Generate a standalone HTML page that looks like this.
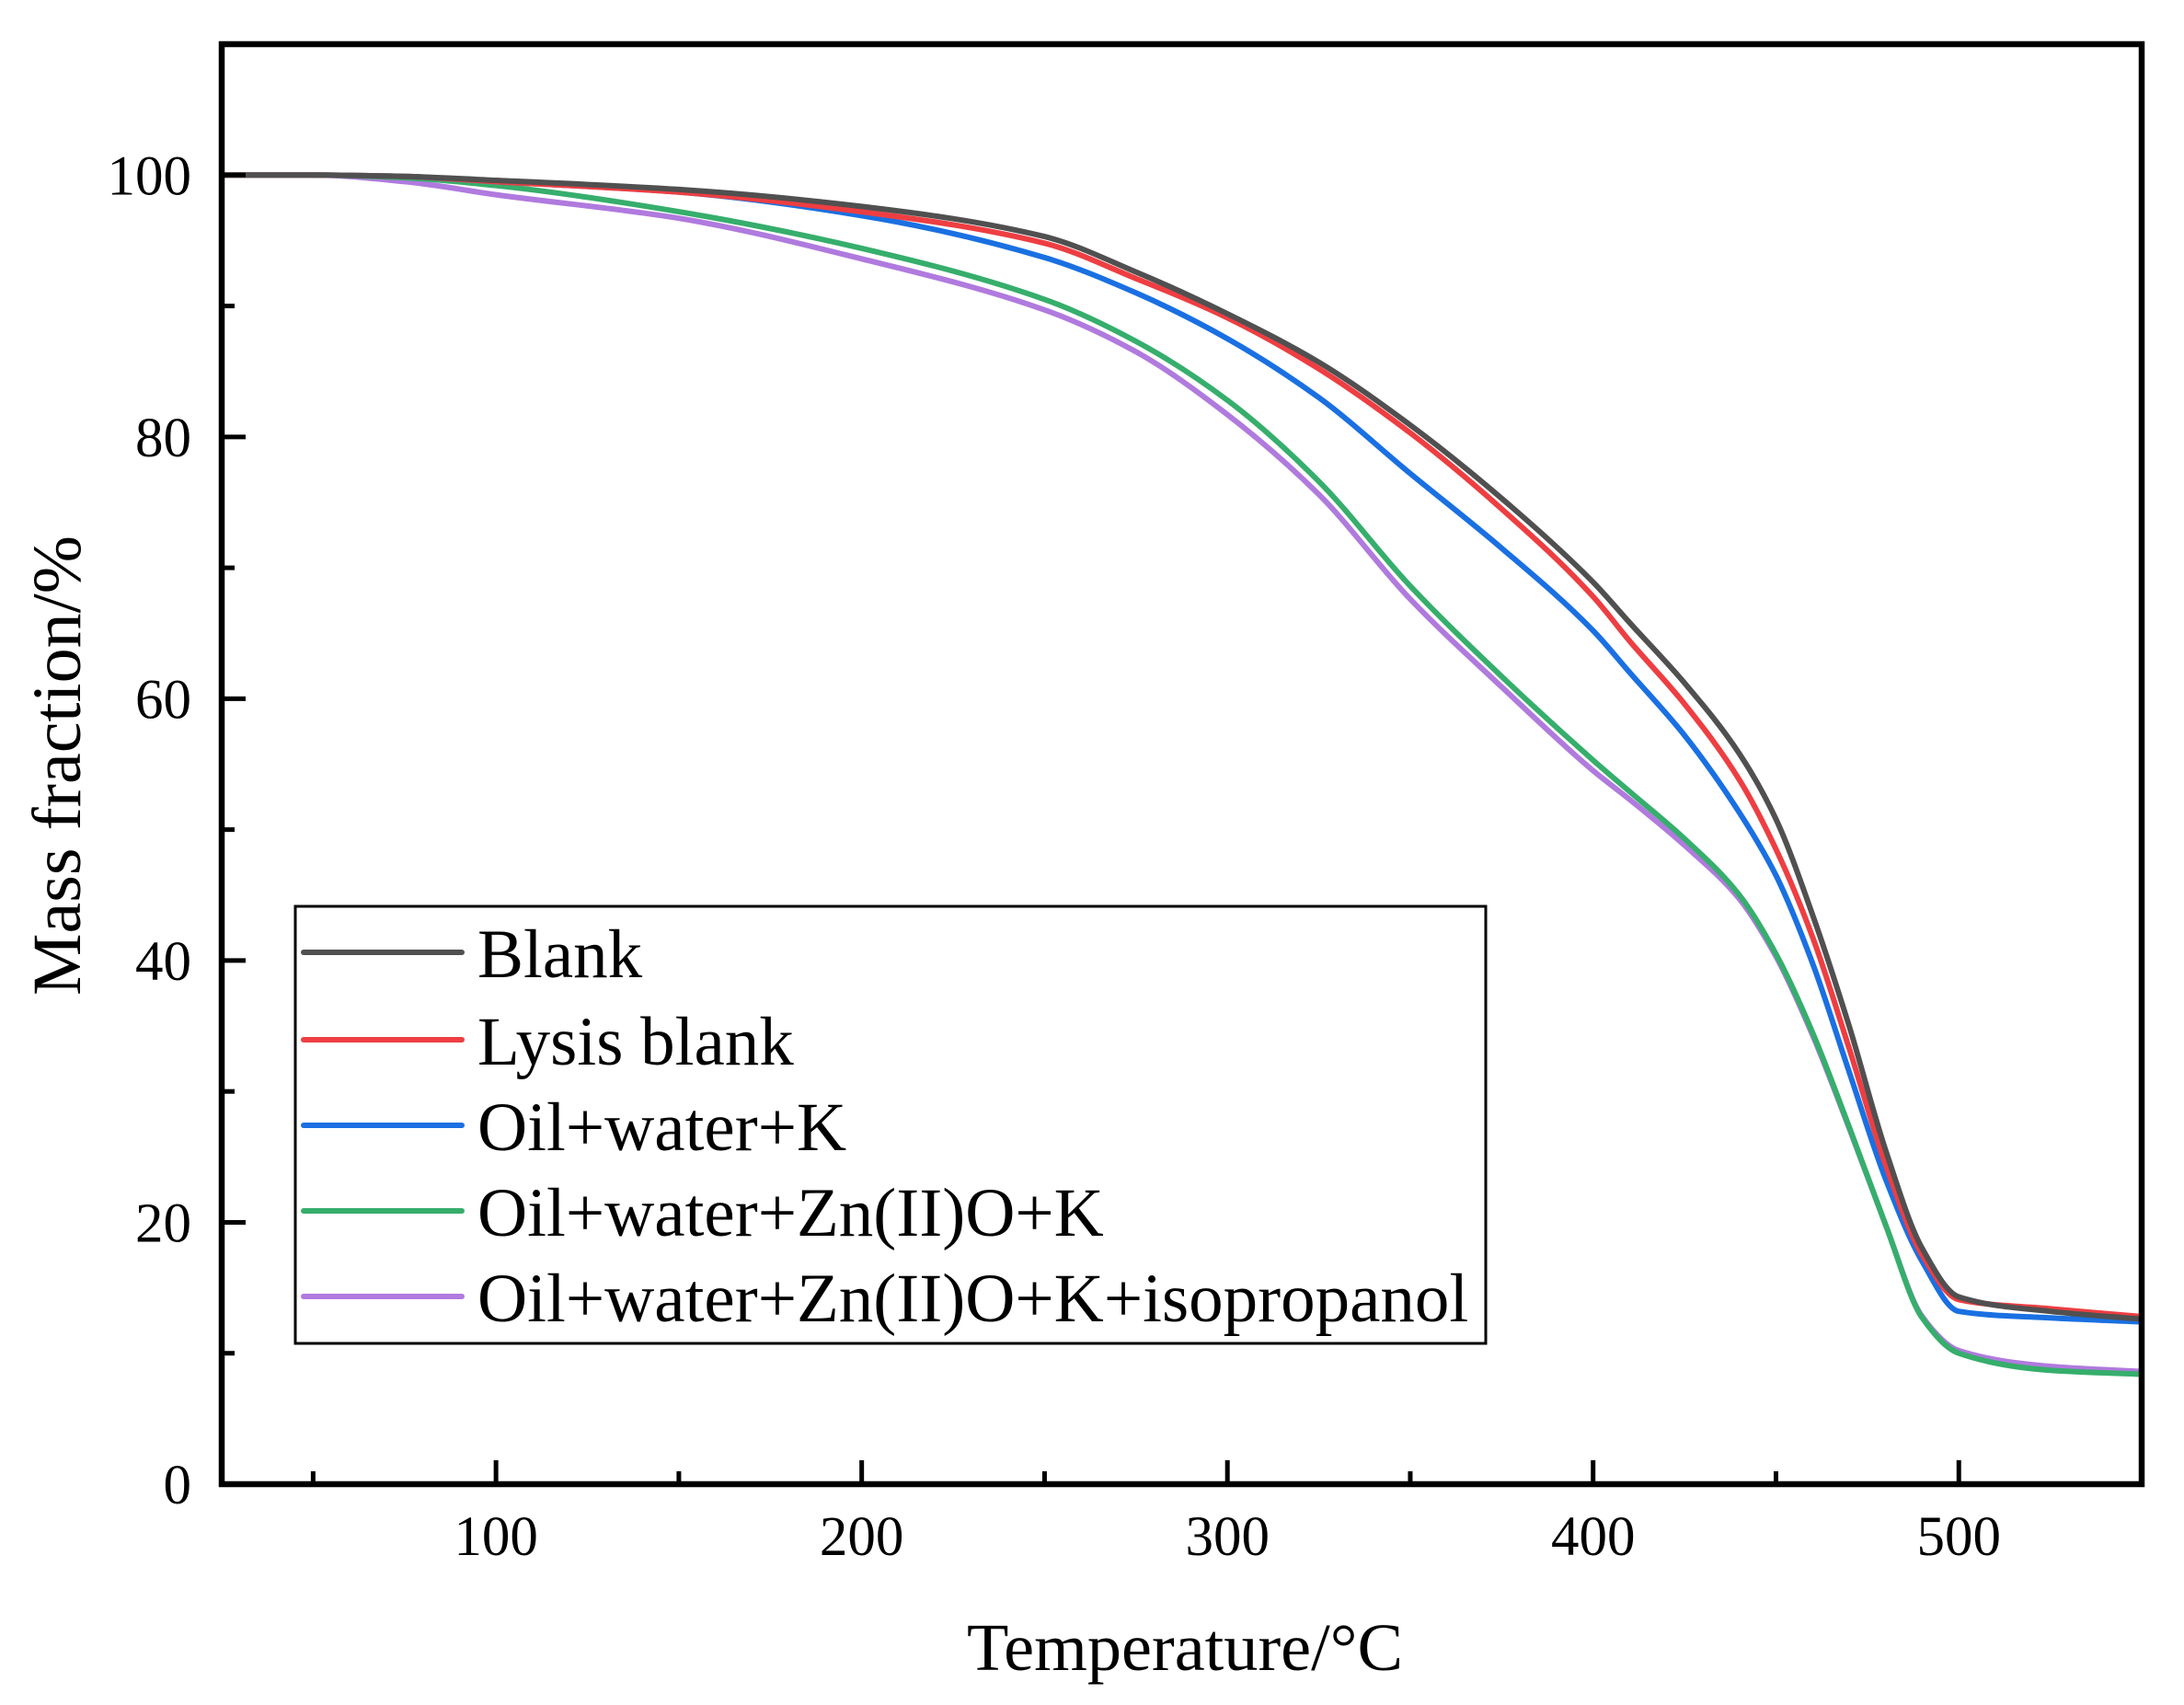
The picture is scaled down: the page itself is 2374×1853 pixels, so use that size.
<!DOCTYPE html>
<html><head><meta charset="utf-8">
<style>
html,body{margin:0;padding:0;background:#fff;}
svg{display:block;}
text{font-family:"Liberation Serif","Times New Roman",serif;fill:#000;}
</style></head>
<body>
<svg id="chart" width="2374" height="1853" viewBox="0 0 2374 1853" xmlns="http://www.w3.org/2000/svg">
<g id="series"></g>
<g id="axes"></g>
<g id="legend"></g>
<text x="1288" y="1815" font-size="73" text-anchor="middle" textLength="474" lengthAdjust="spacingAndGlyphs">Temperature/°C</text>
<text x="0" y="0" font-size="75" text-anchor="middle" textLength="500" lengthAdjust="spacingAndGlyphs" transform="translate(87,832) rotate(-90)">Mass fraction/%</text>
</svg>
<script>
const temps = [25, 50, 75, 100, 150, 200, 250, 275, 300, 325, 350, 375, 400, 410, 425, 440, 450, 460, 470, 480, 490, 500, 525, 550];
const blankVals = [100, 100, 99.9, 99.6, 98.9, 97.6, 95.3, 92.6, 89.4, 85.7, 80.9, 75.3, 68.9, 65.8, 61.2, 55.8, 50.8, 43.5, 35.0, 25.5, 18.0, 14.3, 13.2, 12.6];
const lysisVals = [100, 100, 99.9, 99.5, 98.7, 97.2, 94.8, 92.1, 89.1, 85.2, 80.3, 74.5, 67.8, 64.4, 59.6, 53.8, 48.5, 41.8, 33.3, 24.4, 17.5, 14.1, 13.4, 12.8];
const oilKVals = [100, 100, 99.9, 99.5, 98.7, 96.9, 93.7, 91.0, 87.5, 83.0, 77.2, 71.5, 65.2, 62.0, 57.2, 51.3, 46.5, 39.8, 31.5, 23.3, 17.0, 13.2, 12.7, 12.4];
const znVals = [100, 100, 99.8, 99.2, 97.2, 94.4, 90.5, 87.3, 82.8, 76.6, 68.6, 61.7, 55.3, 52.9, 49.3, 45.0, 40.5, 34.5, 27.3, 19.8, 12.7, 10.0, 8.7, 8.4];
const isoVals = [100, 100, 99.5, 98.5, 96.7, 93.6, 89.7, 86.5, 81.7, 75.6, 67.6, 60.9, 54.5, 52.3, 48.8, 44.7, 40.3, 34.3, 27.2, 19.8, 12.8, 10.2, 9.0, 8.6];
const seriesNames = ["Blank", "Lysis blank", "Oil+water+K", "Oil+water+Zn(II)O+K", "Oil+water+Zn(II)O+K+isopropanol"];
const xTickLabels = [100, 200, 300, 400, 500];
const xMinorTicks = [50, 150, 250, 350, 450, 550];
const yTickLabels = [0, 20, 40, 60, 80, 100];
const yMinorTicks = [10, 30, 50, 70, 90];

const NS = "http://www.w3.org/2000/svg";
const L = 241, R = 2328, T = 48, B = 1613;
const xMin = 25, xMax = 550, yMin = 0, yMax = 110;
function xs(v){ return L + (v - xMin) / (xMax - xMin) * (R - L); }
function ys(v){ return B - (v - yMin) / (yMax - yMin) * (B - T); }
function mk(tag, attrs, parent){
  const e = document.createElementNS(NS, tag);
  for (const k in attrs) e.setAttribute(k, attrs[k]);
  parent.appendChild(e);
  return e;
}
function monotonePath(xv, yv){
  const n = xv.length, d = [], m = new Array(n);
  for (let i = 0; i < n - 1; i++) d.push((yv[i+1]-yv[i])/(xv[i+1]-xv[i]));
  m[0] = d[0]; m[n-1] = d[n-2];
  for (let i = 1; i < n - 1; i++){
    if (d[i-1]*d[i] <= 0) m[i] = 0;
    else { const w1 = 2*(xv[i+1]-xv[i]) + (xv[i]-xv[i-1]), w2 = (xv[i+1]-xv[i]) + 2*(xv[i]-xv[i-1]);
      m[i] = (w1+w2)/(w1/d[i-1] + w2/d[i]); }
  }
  let p = "M" + xs(xv[0]).toFixed(1) + "," + ys(yv[0]).toFixed(1);
  for (let i = 0; i < n - 1; i++){
    const h = xv[i+1]-xv[i];
    const c1x = xv[i] + h/3, c1y = yv[i] + m[i]*h/3;
    const c2x = xv[i+1] - h/3, c2y = yv[i+1] - m[i+1]*h/3;
    p += " C" + xs(c1x).toFixed(1)+","+ys(c1y).toFixed(1)+" "+xs(c2x).toFixed(1)+","+ys(c2y).toFixed(1)+" "+xs(xv[i+1]).toFixed(1)+","+ys(yv[i+1]).toFixed(1);
  }
  return p;
}
const colors = ["#505050", "#ee3e42", "#1a70e2", "#36ae6c", "#b07ade"];
const allVals = [blankVals, lysisVals, oilKVals, znVals, isoVals];
const sg = document.getElementById("series");
const slugs = ["blank-line", "lysis-blank-line", "oil-water-k-line", "oil-water-zn-k-line", "oil-water-zn-k-isopropanol-line"];
for (let s = 4; s >= 0; s--){
  const p = mk("path", {d: monotonePath(temps, allVals[s]), fill: "none", stroke: colors[s], "stroke-width": 6, "stroke-linejoin": "round"}, sg);
  
  
}

const ag = document.getElementById("axes");
const frame = mk("rect", {x: L, y: T, width: R - L, height: B - T, fill: "none", stroke: "#000", "stroke-width": 6.5}, ag);


xTickLabels.forEach(v => {
  const t = mk("line", {x1: xs(v), x2: xs(v), y1: B, y2: B - 26, stroke: "#000", "stroke-width": 5}, ag);
  
  
  const lb = mk("text", {x: xs(v), y: 1690, "font-size": 61, "text-anchor": "middle"}, ag);
  lb.textContent = v;
  
  
});
xMinorTicks.forEach(v => {
  const t = mk("line", {x1: xs(v), x2: xs(v), y1: B, y2: B - 14, stroke: "#000", "stroke-width": 5}, ag);
  
  
});
yTickLabels.forEach(v => {
  const t = mk("line", {x1: L, x2: L + 26, y1: ys(v), y2: ys(v), stroke: "#000", "stroke-width": 5}, ag);
  
  
  const lb = mk("text", {x: 208, y: ys(v) + 21, "font-size": 61, "text-anchor": "end"}, ag);
  lb.textContent = v;
  
  
});
yMinorTicks.forEach(v => {
  const t = mk("line", {x1: L, x2: L + 14, y1: ys(v), y2: ys(v), stroke: "#000", "stroke-width": 5}, ag);
  
  
});

const lg = document.getElementById("legend");
const box = mk("rect", {x: 321, y: 985, width: 1294, height: 475, fill: "#fff", stroke: "#000", "stroke-width": 3}, lg);


const legendY = [1035, 1130, 1223, 1316, 1409];
seriesNames.forEach((nm, i) => {
  const ln = mk("line", {x1: 330, x2: 502, y1: legendY[i], y2: legendY[i], stroke: colors[i], "stroke-width": 6, "stroke-linecap": "round"}, lg);
  
  
  const tx = mk("text", {x: 519, y: legendY[i] + 27, "font-size": 75}, lg);
  tx.textContent = nm;
  
  
});
</script>
</body></html>
